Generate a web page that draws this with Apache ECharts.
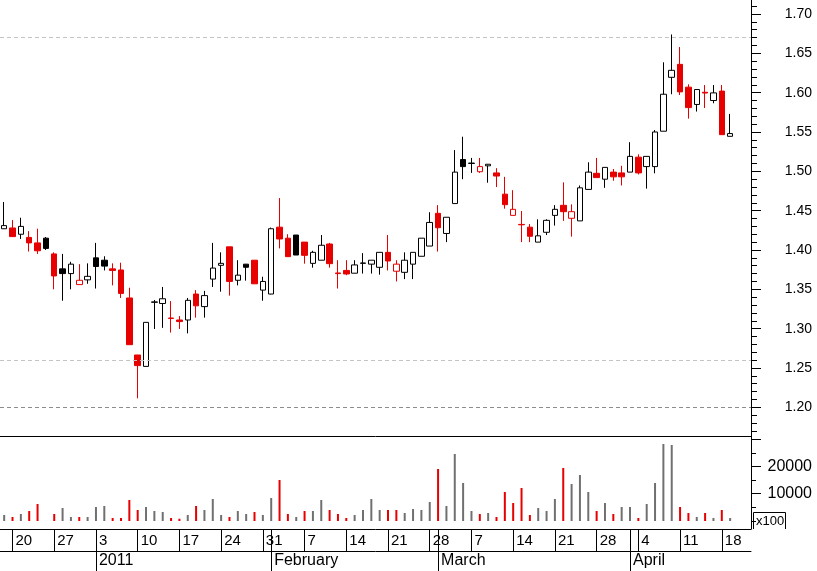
<!DOCTYPE html>
<html><head><meta charset="utf-8">
<script src="https://cdn.jsdelivr.net/npm/echarts@6/dist/echarts.min.js"></script>
<style>html,body{margin:0;padding:0;background:#fff}#c{width:817px;height:571px}</style>
</head><body><div id="c"></div>
<script>
// Trading-day categories (two trailing empty slots)
const dates = [
'2010-12-17','2010-12-20','2010-12-21','2010-12-22','2010-12-23','2010-12-24','2010-12-27','2010-12-28','2010-12-29','2010-12-30','2010-12-31',
'2011-01-03','2011-01-04','2011-01-05','2011-01-06','2011-01-07','2011-01-10','2011-01-11','2011-01-12','2011-01-13','2011-01-14',
'2011-01-17','2011-01-18','2011-01-19','2011-01-20','2011-01-21','2011-01-24','2011-01-25','2011-01-26','2011-01-27','2011-01-28','2011-01-31',
'2011-02-01','2011-02-02','2011-02-03','2011-02-04','2011-02-07','2011-02-08','2011-02-09','2011-02-10','2011-02-11',
'2011-02-14','2011-02-15','2011-02-16','2011-02-17','2011-02-18','2011-02-21','2011-02-22','2011-02-23','2011-02-24','2011-02-25','2011-02-28',
'2011-03-01','2011-03-02','2011-03-03','2011-03-04','2011-03-07','2011-03-08','2011-03-09','2011-03-10','2011-03-11',
'2011-03-14','2011-03-15','2011-03-16','2011-03-17','2011-03-18','2011-03-21','2011-03-22','2011-03-23','2011-03-24','2011-03-25',
'2011-03-28','2011-03-29','2011-03-30','2011-03-31','2011-04-01','2011-04-04','2011-04-05','2011-04-06','2011-04-07','2011-04-08',
'2011-04-11','2011-04-12','2011-04-13','2011-04-14','2011-04-15','2011-04-18','2011-04-19','2011-04-20','2011-04-21'
];
const opens = [
1.427,1.428,1.420,1.416,1.409,1.415,1.395,1.376,1.370,1.356,1.362,
1.390,1.387,1.376,1.3746,1.339,1.2665,1.252,1.3335,1.332,1.3135,
1.311,1.311,1.344,1.328,1.363,1.3805,1.404,1.3615,1.382,1.387,1.349,
1.344,1.429,1.415,1.419,1.410,1.383,1.387,1.4076,1.3708,
1.374,1.3705,1.383,1.382,1.378,1.397,1.373,1.3716,1.382,1.392,1.405,
1.4466,1.421,1.459,1.515,1.5100,1.4995,1.507,1.498,1.471,
1.444,1.4325,1.429,1.410,1.4225,1.444,1.4568,1.4403,1.437,1.477,
1.4975,1.490,1.499,1.498,1.499,1.518,1.506,1.506,1.551,1.6195,
1.636,1.607,1.585,1.6005,1.590,1.602,1.5445
];
const closes = [
1.431,1.417,1.430,1.409,1.399,1.402,1.367,1.370,1.382,1.3615,1.3665,
1.379,1.3795,1.374,1.3448,1.2796,1.253,1.308,1.334,1.338,1.313,
1.309,1.336,1.329,1.342,1.377,1.383,1.360,1.368,1.378,1.357,1.360,
1.427,1.414,1.3915,1.3936,1.3932,1.397,1.406,1.3826,1.370,
1.3695,1.381,1.3835,1.387,1.397,1.386,1.382,1.387,1.397,1.415,1.435,
1.4283,1.4416,1.499,1.506,1.5105,1.506,1.509,1.494,1.4576,
1.4517,1.432,1.4174,1.418,1.4377,1.4517,1.4487,1.4487,1.479,1.499,
1.492,1.505,1.493,1.493,1.519,1.498,1.519,1.550,1.598,1.6284,
1.601,1.581,1.604,1.5995,1.5997,1.5466,1.548
];
const lows = [
1.427,1.417,1.414,1.398,1.395,1.400,1.350,1.3355,1.350,1.356,1.357,
1.351,1.374,1.355,1.339,1.2796,1.2114,1.252,1.2996,1.301,1.295,
1.2996,1.294,1.314,1.314,1.353,1.347,1.342,1.355,1.361,1.357,1.3355,
1.3437,1.402,1.3915,1.3936,1.3826,1.3775,1.387,1.3775,1.351,
1.368,1.3704,1.370,1.370,1.3686,1.374,1.360,1.363,1.363,1.392,1.405,
1.398,1.410,1.459,1.490,1.498,1.498,1.4855,1.480,1.4525,
1.444,1.410,1.410,1.410,1.419,1.431,1.437,1.417,1.437,1.477,
1.492,1.479,1.488,1.482,1.499,1.496,1.478,1.4975,1.551,1.598,
1.597,1.567,1.576,1.5805,1.5865,1.5466,1.5445
];
const highs = [
1.461,1.438,1.441,1.424,1.427,1.4165,1.397,1.395,1.385,1.382,1.383,
1.409,1.392,1.383,1.3838,1.352,1.2665,1.308,1.3364,1.353,1.335,
1.316,1.339,1.349,1.348,1.409,1.397,1.404,1.387,1.382,1.387,1.366,
1.4285,1.466,1.420,1.419,1.410,1.399,1.419,1.409,1.387,
1.387,1.387,1.396,1.387,1.397,1.419,1.387,1.397,1.397,1.415,1.448,
1.457,1.4416,1.527,1.544,1.517,1.517,1.5093,1.504,1.493,
1.476,1.4496,1.433,1.439,1.439,1.457,1.486,1.458,1.482,1.5115,
1.517,1.505,1.503,1.507,1.537,1.5216,1.519,1.5525,1.6386,1.674,
1.658,1.6106,1.604,1.6097,1.6097,1.6097,1.573
];
// Volume in units of 100 shares
const volumes = [
2200,1470,2560,3660,6230,0,2560,4760,1470,1470,1470,
5130,5490,1100,1100,7690,4030,5130,3660,3300,1100,
840,2200,5490,4030,8060,2200,1470,3660,2560,3300,2200,
8420,15020,2560,1470,3660,3660,7690,4030,2560,
1100,2200,4030,8060,4030,4030,4030,2930,4400,4030,6960,
19050,5490,24540,13920,3660,2560,2930,1470,10620,
6590,12090,2200,4760,3660,8060,19410,13550,16850,10620,
3660,6590,2560,5130,5130,1100,6230,13920,28210,27840,
5130,2930,1470,2930,1100,4030,1100
];
const priceMajorTicks = [1.20,1.25,1.30,1.35,1.40,1.45,1.50,1.55,1.60,1.65,1.70];
const priceMinorTicks = [];
for (let k = 117; k <= 171; k++) priceMinorTicks.push(k / 100);
const volMajorTicks = [10000, 20000, 30000];
const volLabelTicks = [10000, 20000];
const volMinorTicks = [0, 5000, 15000, 25000];
const refLevels = [1.674, 1.2577, 1.20];
const monthNames = ['January','February','March','April','May','June','July','August','September','October','November','December'];

const RED = '#e60000', BLACK = '#000000', VGRAY = '#707070';
const FONT = '"Liberation Sans", Arial, sans-serif';

const parsed = dates.map(s => { const p = s.split('-').map(Number); return new Date(Date.UTC(p[0], p[1]-1, p[2])); });
const isWeekStart = parsed.map((d, i) => {
  if (i === 0) return false;
  const pr = parsed[i-1];
  return d.getUTCDay() < pr.getUTCDay() || (d - pr) >= 7*86400000;
});
const isMonthStart = parsed.map((d, i) => i > 0 && d.getUTCMonth() !== parsed[i-1].getUTCMonth());
const monthLabel = parsed.map((d, i) => (i > 0 && d.getUTCFullYear() !== parsed[i-1].getUTCFullYear()) ? String(d.getUTCFullYear()) : monthNames[d.getUTCMonth()]);

const candleData = opens.map((o, i) => {
  const c = closes[i];
  const prev = i > 0 ? closes[i-1] : -Infinity;
  const col = c > prev ? BLACK : RED;
  const fill = c < o ? col : '#ffffff';
  return { value: [o, c, lows[i], highs[i]], itemStyle: { color: fill, color0: fill, borderColor: col, borderColor0: col } };
});
const volData = volumes.map((v, i) => ({ value: v, itemStyle: { color: (i > 0 && closes[i] < closes[i-1]) ? RED : VGRAY } }));

// price axis range (grid 0 spans y 0..436)
const PMIN = 1.16352, PMAX = 1.7178;
const VMIN = -2930, VMAX = 31136;

const chart = echarts.init(document.getElementById('c'), null, { renderer: 'canvas' });
chart.setOption({
  animation: false,
  backgroundColor: '#ffffff',
  textStyle: { fontFamily: FONT },
  grid: [
    { left: 0, top: 0, width: 751, height: 436 },
    { left: 0, top: 436, width: 751, height: 93 }
  ],
  xAxis: [
    { type: 'category', gridIndex: 0, data: dates, boundaryGap: true,
      axisLine: { show: true, onZero: false, lineStyle: { color: '#000', width: 1 } },
      axisTick: { show: false }, axisLabel: { show: false }, splitLine: { show: false } },
    { type: 'category', gridIndex: 1, data: dates, boundaryGap: true, position: 'bottom',
      axisLine: { show: true, onZero: false, lineStyle: { color: '#000', width: 1 } },
      axisTick: { show: true, alignWithLabel: true, length: 22, lineStyle: { color: '#000', width: 1 },
        interval: (i) => isWeekStart[i] || isMonthStart[i] },
      axisLabel: { show: true, interval: (i) => isWeekStart[i], formatter: (v) => String(Number(v.split('-')[2])),
        align: 'left', margin: 4, padding: [0, 0, 0, 3], fontSize: 15, color: '#000', fontFamily: FONT },
      splitLine: { show: false } },
    { type: 'category', gridIndex: 1, data: dates, boundaryGap: true, position: 'bottom', offset: 22,
      axisLine: { show: true, onZero: false, lineStyle: { color: '#000', width: 1 } },
      axisTick: { show: true, alignWithLabel: true, length: 22, lineStyle: { color: '#000', width: 1 },
        interval: (i) => isMonthStart[i] },
      axisLabel: { show: true, interval: (i) => isMonthStart[i], formatter: (v, i) => monthLabel[i],
        align: 'left', margin: 2, padding: [0, 0, 0, 3], fontSize: 16, color: '#000', fontFamily: FONT },
      splitLine: { show: false } }
  ],
  yAxis: [
    { type: 'value', gridIndex: 0, position: 'right', min: PMIN, max: PMAX,
      axisLine: { show: true, onZero: false, lineStyle: { color: '#000', width: 1 } },
      axisTick: { show: true, customValues: priceMajorTicks, length: 10, lineStyle: { color: '#000' } },
      axisLabel: { show: true, customValues: priceMajorTicks, formatter: (v) => v.toFixed(2),
        align: 'right', margin: 61, fontSize: 14, color: '#000', fontFamily: FONT },
      splitLine: { show: false } },
    { type: 'value', gridIndex: 0, position: 'right', min: PMIN, max: PMAX,
      axisLine: { show: false },
      axisTick: { show: true, customValues: priceMinorTicks, length: 6, lineStyle: { color: '#000' } },
      axisLabel: { show: false }, splitLine: { show: false } },
    { type: 'value', gridIndex: 1, position: 'right', min: VMIN, max: VMAX,
      axisLine: { show: true, onZero: false, lineStyle: { color: '#000', width: 1 } },
      axisTick: { show: true, customValues: volMajorTicks, length: 10, lineStyle: { color: '#000' } },
      axisLabel: { show: true, customValues: volLabelTicks, formatter: (v) => String(v),
        align: 'right', margin: 61, fontSize: 16, color: '#000', fontFamily: FONT },
      splitLine: { show: false } },
    { type: 'value', gridIndex: 1, position: 'right', min: VMIN, max: VMAX,
      axisLine: { show: false },
      axisTick: { show: true, customValues: volMinorTicks, length: 5, lineStyle: { color: '#000' } },
      axisLabel: { show: false }, splitLine: { show: false } }
  ],
  series: [
    { type: 'candlestick', xAxisIndex: 0, yAxisIndex: 0, data: candleData, barWidth: 6,
      itemStyle: { borderWidth: 1 },
      markLine: { silent: true, symbol: ['none', 'none'], label: { show: false }, animation: false,
        data: refLevels.map((v, k) => ({ yAxis: v, lineStyle: { type: [4, 3], width: 1, color: k === refLevels.length - 1 ? '#8c8c8c' : '#c4c4c4' } })) } },
    { type: 'bar', xAxisIndex: 1, yAxisIndex: 2, data: volData, barWidth: 2 }
  ],
  graphic: [
    { type: 'polyline', shape: { points: [[753.5, 529], [753.5, 512.5], [785.5, 512.5], [785.5, 529]] },
      style: { stroke: '#000', fill: null, lineWidth: 1 } },
    { type: 'text', x: 756, y: 521, style: { text: 'x100', fontSize: 13, fontFamily: FONT, fill: '#000', verticalAlign: 'middle' } }
  ]
});
</script>
</body></html>
